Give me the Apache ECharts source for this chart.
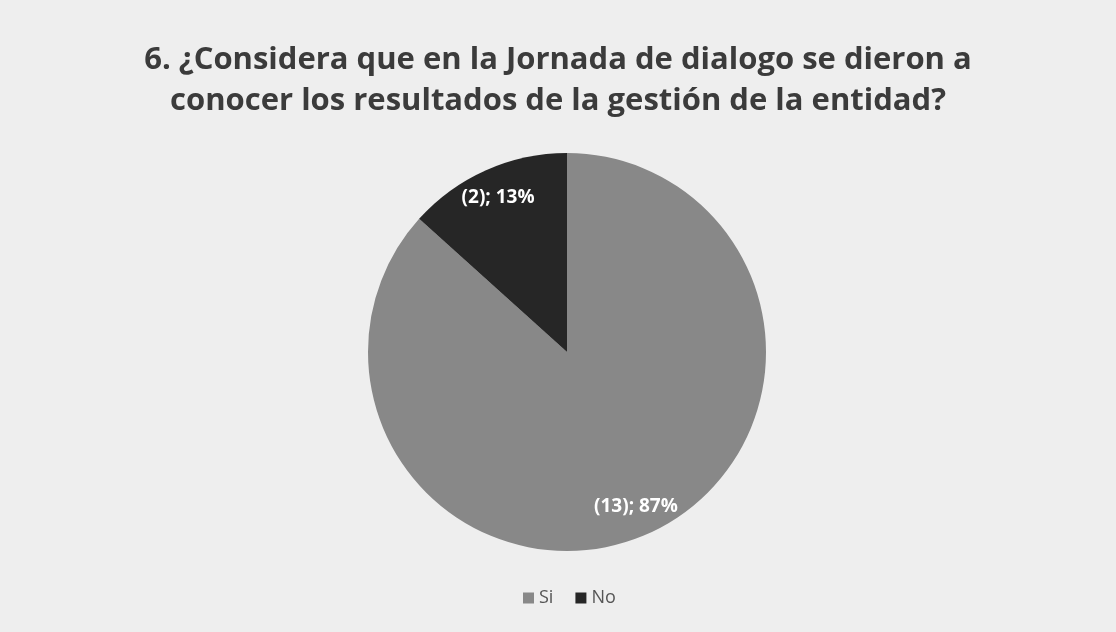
<!DOCTYPE html>
<html><head><meta charset="utf-8">
<script src="https://cdn.jsdelivr.net/npm/echarts@6/dist/echarts.min.js"></script>
<style>html,body{margin:0;padding:0;background:#eeeeee;}#c{width:1116px;height:632px;}</style>
</head><body><div id="c"></div>
<script>
const categories = ['Si', 'No'];
const counts = [13, 2];
const colors = ['#888888', '#262626'];
const titleText = '6. ¿Considera que en la Jornada de dialogo se dieron a\nconocer los resultados de la gestión de la entidad?';

const data = categories.map((n, i) => ({ name: n, value: counts[i], itemStyle: { color: colors[i] } }));
const chart = echarts.init(document.getElementById('c'));
chart.setOption({
  backgroundColor: '#eeeeee',
  title: {
    text: titleText, left: 'center', top: 35,
    textStyle: { fontFamily: 'Open Sans', fontWeight: 'bold', fontSize: 31, lineHeight: 41, color: '#3b3b3b' }
  },
  legend: {
    data: categories, bottom: 20, left: 518, itemWidth: 11, itemHeight: 11, itemGap: 22, icon: 'rect',
    textStyle: { fontFamily: 'Open Sans', fontSize: 18, color: '#555555' }
  },
  series: [{
    type: 'pie', center: [567, 352], radius: [0, 199], startAngle: 90, clockwise: true,
    data: data, label: { show: false }, labelLine: { show: false }, silent: true
  }, {
    type: 'pie', center: [567, 352], radius: [134, 199], startAngle: 90, clockwise: true,
    data: categories.map((n, i) => ({ name: n, value: counts[i], itemStyle: { color: 'rgba(0,0,0,0)' } })),
    silent: true, labelLine: { show: false },
    label: {
      show: true, position: 'inside', color: '#ffffff', fontFamily: 'Open Sans', fontWeight: 'bold', fontSize: 19,
      formatter: p => '(' + p.value + '); ' + Math.round(p.percent) + '%'
    }
  }]
});
</script></body></html>
